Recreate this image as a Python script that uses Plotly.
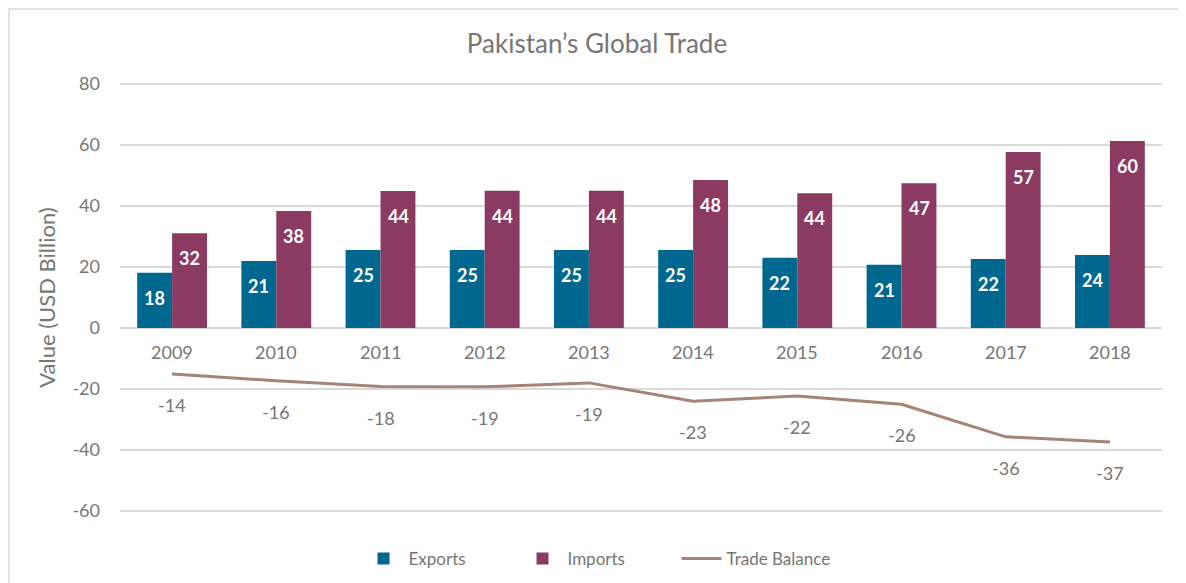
import plotly.graph_objects as go

years = ["2009", "2010", "2011", "2012", "2013", "2014", "2015", "2016", "2017", "2018"]
exports = [18.1, 22.0, 25.6, 25.6, 25.6, 25.6, 23.0, 20.7, 22.6, 23.9]
imports = [31.1, 38.4, 44.9, 45.0, 45.0, 48.5, 44.2, 47.5, 57.7, 61.3]
trade_balance = [-15.1, -17.3, -19.2, -19.3, -18.0, -24.0, -22.3, -25.0, -35.7, -37.4]
export_labels = ["18", "21", "25", "25", "25", "25", "22", "21", "22", "24"]
import_labels = ["32", "38", "44", "44", "44", "48", "44", "47", "57", "60"]
balance_labels = ["-14", "-16", "-18", "-19", "-19", "-23", "-22", "-26", "-36", "-37"]
y_ticks = [-60, -40, -20, 0, 20, 40, 60, 80]
y_tick_text = ["-60", "-40", "-20", "0", "20", "40", "60", "80"]

C_EXP = "#00688f"
C_IMP = "#8b3a62"
C_BAL = "#a58476"
GREY = "#767676"
FONT = "Lato, 'Open Sans', sans-serif"

fig = go.Figure()
fig.add_trace(go.Bar(x=years, y=exports, name="Exports", marker=dict(color=C_EXP, line=dict(width=0)),
                     hoverinfo="x+y"))
fig.add_trace(go.Bar(x=years, y=imports, name="Imports", marker=dict(color=C_IMP, line=dict(width=0)),
                     hoverinfo="x+y"))
fig.add_trace(go.Scatter(x=years, y=trade_balance, name="Trade Balance", mode="lines",
                         line=dict(color=C_BAL, width=3)))

annotations = []
# category labels at the zero line (x given as category index)
for i, yr in enumerate(years):
    annotations.append(dict(x=i, y=0, xref="x", yref="y", text=yr, showarrow=False,
                            yshift=-24, font=dict(family=FONT, size=18, color=GREY)))
# bar labels
for i, (v, t) in enumerate(zip(exports, export_labels)):
    annotations.append(dict(x=i, y=v, xref="x", yref="y", text="<b>%s</b>" % t, showarrow=False,
                            xshift=-17.5, yshift=-25, font=dict(family=FONT, size=18, color="white")))
for i, (v, t) in enumerate(zip(imports, import_labels)):
    annotations.append(dict(x=i, y=v, xref="x", yref="y", text="<b>%s</b>" % t, showarrow=False,
                            xshift=17.5, yshift=-25, font=dict(family=FONT, size=18, color="white")))
# line labels
for i, (v, t) in enumerate(zip(trade_balance, balance_labels)):
    annotations.append(dict(x=i, y=v, xref="x", yref="y", text=t, showarrow=False,
                            yshift=-31, font=dict(family=FONT, size=18, color=GREY)))

fig.update_layout(
    width=1178, height=575,
    margin=dict(l=112, r=24, t=73, b=69),
    paper_bgcolor="white", plot_bgcolor="white",
    barmode="group", bargap=0.33, bargroupgap=0,
    font=dict(family=FONT, size=16, color=GREY),
    title=dict(text="Pakistan\u2019s Global Trade", x=0.5, xanchor="center", y=0.937, yanchor="middle",
               font=dict(family=FONT, size=26, color=GREY)),
    xaxis=dict(type="category", range=[-0.5, 9.5], showticklabels=False, showgrid=False, zeroline=False,
               showline=False, ticks="", automargin=False),
    yaxis=dict(range=[-61, 81], tickvals=y_ticks, ticktext=y_tick_text, showgrid=True,
               gridcolor="#d9d9d9", gridwidth=1.5, automargin=False,
               zeroline=True, zerolinecolor="#d9d9d9", zerolinewidth=1.5,
               tickfont=dict(family=FONT, size=18, color=GREY), ticklabelstandoff=19,
               title=dict(text="Value (USD Billion)", font=dict(family=FONT, size=22, color=GREY), standoff=10)),
    legend=dict(orientation="h", xref="container", x=0.5, xanchor="center",
                yref="container", y=0.042, yanchor="middle",
                font=dict(family=FONT, size=17, color=GREY), itemwidth=40, entrywidth=104,
                traceorder="normal"),
    annotations=annotations,
    shapes=[dict(type="rect", xref="paper", yref="paper", x0=-0.1065, x1=1.05, y0=-0.2, y1=1.166,
                 line=dict(color="#d9d9d9", width=1.5), fillcolor="rgba(0,0,0,0)", layer="below")],
)

fig.write_html("out.html")
